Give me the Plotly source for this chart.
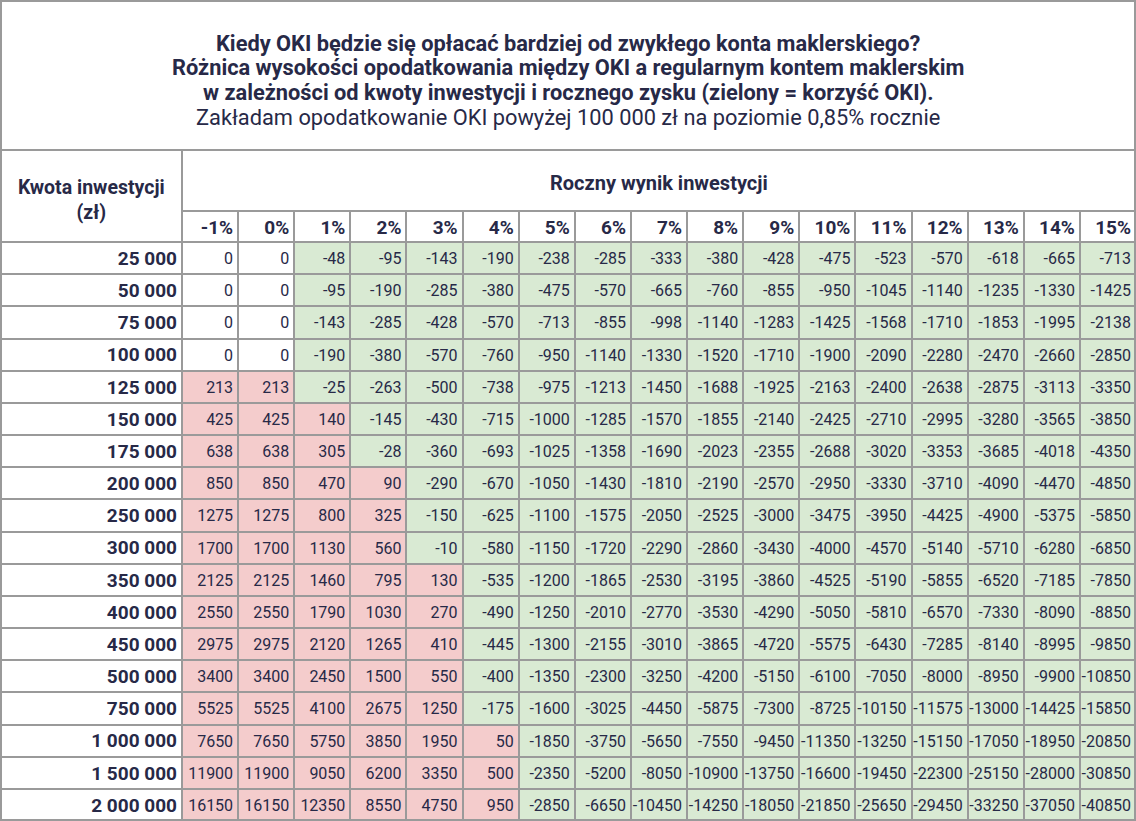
import plotly.graph_objects as go

W, H = 1136, 821

tytul = [
    "<b>Kiedy OKI będzie się opłacać bardziej od zwykłego konta maklerskiego?</b>",
    "<b>Różnica wysokości opodatkowania między OKI a regularnym kontem maklerskim</b>",
    "<b>w zależności od kwoty inwestycji i rocznego zysku (zielony = korzyść OKI).</b>",
    "Zakładam opodatkowanie OKI powyżej 100 000 zł na poziomie 0,85% rocznie",
]
naglowek_kwoty = "Kwota inwestycji<br>(zł)"
naglowek_wyniku = "Roczny wynik inwestycji"

stopy = ["-1%", "0%", "1%", "2%", "3%", "4%", "5%", "6%", "7%", "8%",
         "9%", "10%", "11%", "12%", "13%", "14%", "15%"]

kwoty = ["25 000", "50 000", "75 000", "100 000", "125 000", "150 000",
         "175 000", "200 000", "250 000", "300 000", "350 000", "400 000",
         "450 000", "500 000", "750 000", "1 000 000", "1 500 000", "2 000 000"]

# roznica opodatkowania OKI vs konto maklerskie, wiersz = kwota, kolumna = roczny wynik
roznica = [
    [0, 0, -48, -95, -143, -190, -238, -285, -333, -380, -428, -475, -523, -570, -618, -665, -713],
    [0, 0, -95, -190, -285, -380, -475, -570, -665, -760, -855, -950, -1045, -1140, -1235, -1330, -1425],
    [0, 0, -143, -285, -428, -570, -713, -855, -998, -1140, -1283, -1425, -1568, -1710, -1853, -1995, -2138],
    [0, 0, -190, -380, -570, -760, -950, -1140, -1330, -1520, -1710, -1900, -2090, -2280, -2470, -2660, -2850],
    [213, 213, -25, -263, -500, -738, -975, -1213, -1450, -1688, -1925, -2163, -2400, -2638, -2875, -3113, -3350],
    [425, 425, 140, -145, -430, -715, -1000, -1285, -1570, -1855, -2140, -2425, -2710, -2995, -3280, -3565, -3850],
    [638, 638, 305, -28, -360, -693, -1025, -1358, -1690, -2023, -2355, -2688, -3020, -3353, -3685, -4018, -4350],
    [850, 850, 470, 90, -290, -670, -1050, -1430, -1810, -2190, -2570, -2950, -3330, -3710, -4090, -4470, -4850],
    [1275, 1275, 800, 325, -150, -625, -1100, -1575, -2050, -2525, -3000, -3475, -3950, -4425, -4900, -5375, -5850],
    [1700, 1700, 1130, 560, -10, -580, -1150, -1720, -2290, -2860, -3430, -4000, -4570, -5140, -5710, -6280, -6850],
    [2125, 2125, 1460, 795, 130, -535, -1200, -1865, -2530, -3195, -3860, -4525, -5190, -5855, -6520, -7185, -7850],
    [2550, 2550, 1790, 1030, 270, -490, -1250, -2010, -2770, -3530, -4290, -5050, -5810, -6570, -7330, -8090, -8850],
    [2975, 2975, 2120, 1265, 410, -445, -1300, -2155, -3010, -3865, -4720, -5575, -6430, -7285, -8140, -8995, -9850],
    [3400, 3400, 2450, 1500, 550, -400, -1350, -2300, -3250, -4200, -5150, -6100, -7050, -8000, -8950, -9900, -10850],
    [5525, 5525, 4100, 2675, 1250, -175, -1600, -3025, -4450, -5875, -7300, -8725, -10150, -11575, -13000, -14425, -15850],
    [7650, 7650, 5750, 3850, 1950, 50, -1850, -3750, -5650, -7550, -9450, -11350, -13250, -15150, -17050, -18950, -20850],
    [11900, 11900, 9050, 6200, 3350, 500, -2350, -5200, -8050, -10900, -13750, -16600, -19450, -22300, -25150, -28000, -30850],
    [16150, 16150, 12350, 8550, 4750, 950, -2850, -6650, -10450, -14250, -18050, -21850, -25650, -29450, -33250, -37050, -40850],
]

NAVY = "#272947"
GRID = "#9a9a9a"
GREEN = "#d9ead3"
RED = "#f4cccc"
FONT = "Roboto"

# geometria tabeli w pikselach (osie maja jednostki pikseli)
KOL0 = 182
KOL = (W - KOL0) / len(stopy)
TOP_TYT = 150
TOP_PROC = 211
TOP_DANE = 242
WIERSZ = (H - TOP_DANE) / len(kwoty)
PAD = 5
Y_TYT = [43, 67, 92, 117]

x_kraw = [0, KOL0] + [KOL0 + KOL * (j + 1) for j in range(len(stopy))]
y_kraw = [TOP_PROC, TOP_DANE] + [TOP_DANE + WIERSZ * (i + 1) for i in range(len(kwoty))]
x_prawo = [x_kraw[j + 2] - PAD for j in range(len(stopy))]
y_srodek = [(y_kraw[i + 1] + y_kraw[i + 2]) / 2 + 2 for i in range(len(kwoty))]
y_proc = (TOP_PROC + TOP_DANE) / 2 + 3


def klasa(v):
    if v > 0:
        return 2
    if v < 0:
        return 1
    return 0


z = [[0] * (len(stopy) + 1)]
for wiersz in roznica:
    z.append([0] + [klasa(v) for v in wiersz])

fig = go.Figure()
fig.add_trace(go.Heatmap(
    x=x_kraw, y=y_kraw, z=z,
    zmin=0, zmax=2, showscale=False, hoverinfo="skip",
    colorscale=[[0, "white"], [0.33, "white"], [0.33, GREEN], [0.67, GREEN],
                [0.67, RED], [1, RED]],
    xgap=2, ygap=2,
))

# wartosci w komorkach
tx, ty, tt = [], [], []
for i, wiersz in enumerate(roznica):
    for j, v in enumerate(wiersz):
        tx.append(x_prawo[j])
        ty.append(y_srodek[i])
        tt.append(str(v))
fig.add_trace(go.Scatter(
    x=tx, y=ty, text=tt, mode="text", textposition="middle left",
    textfont=dict(family=FONT, size=16, color=NAVY), hoverinfo="skip",
))

# kwoty inwestycji
fig.add_trace(go.Scatter(
    x=[KOL0 - PAD] * len(kwoty), y=y_srodek,
    text=["<b>%s</b>" % k for k in kwoty],
    mode="text", textposition="middle left",
    textfont=dict(family=FONT, size=19, color=NAVY), hoverinfo="skip",
))

# naglowki procentowe
fig.add_trace(go.Scatter(
    x=x_prawo, y=[y_proc] * len(stopy),
    text=["<b>%s</b>" % s for s in stopy],
    mode="text", textposition="middle left",
    textfont=dict(family=FONT, size=19, color=NAVY), hoverinfo="skip",
))

ramki = [
    (1, 1, W - 1, TOP_TYT),
    (1, TOP_TYT, KOL0, TOP_DANE),
    (KOL0, TOP_TYT, W - 1, TOP_PROC),
]
for x0, y0, x1, y1 in ramki:
    fig.add_shape(type="rect", xref="x", yref="y", x0=x0, x1=x1, y0=y0, y1=y1,
                  line=dict(color=GRID, width=2), fillcolor="white", layer="above")
fig.add_shape(type="rect", xref="x", yref="y", x0=1, x1=W - 1, y0=1, y1=H - 1,
              line=dict(color=GRID, width=2), layer="above")

for linia, yl in zip(tytul, Y_TYT):
    fig.add_annotation(
        x=W / 2, y=yl, xref="x", yref="y", showarrow=False,
        xanchor="center", yanchor="middle", text=linia,
        font=dict(family=FONT, size=21.8, color=NAVY),
    )
fig.add_annotation(
    x=KOL0 / 2, y=(TOP_TYT + TOP_DANE) / 2 + 4, xref="x", yref="y", showarrow=False,
    xanchor="center", yanchor="middle", align="center",
    text="<b>%s</b>" % naglowek_kwoty,
    font=dict(family=FONT, size=19.5, color=NAVY),
)
fig.add_annotation(
    x=(KOL0 + W) / 2, y=(TOP_TYT + TOP_PROC) / 2 + 2, xref="x", yref="y", showarrow=False,
    xanchor="center", yanchor="middle",
    text="<b>%s</b>" % naglowek_wyniku,
    font=dict(family=FONT, size=20, color=NAVY),
)

fig.update_xaxes(range=[0, W], visible=False, fixedrange=True)
fig.update_yaxes(range=[H, 0], visible=False, fixedrange=True)
fig.update_layout(
    width=W, height=H,
    margin=dict(l=0, r=0, t=0, b=0, pad=0),
    paper_bgcolor="white", plot_bgcolor=GRID,
    showlegend=False,
)

fig.write_html("out.html", config={"displayModeBar": False},
               post_script="document.body.style.margin='0px';")
